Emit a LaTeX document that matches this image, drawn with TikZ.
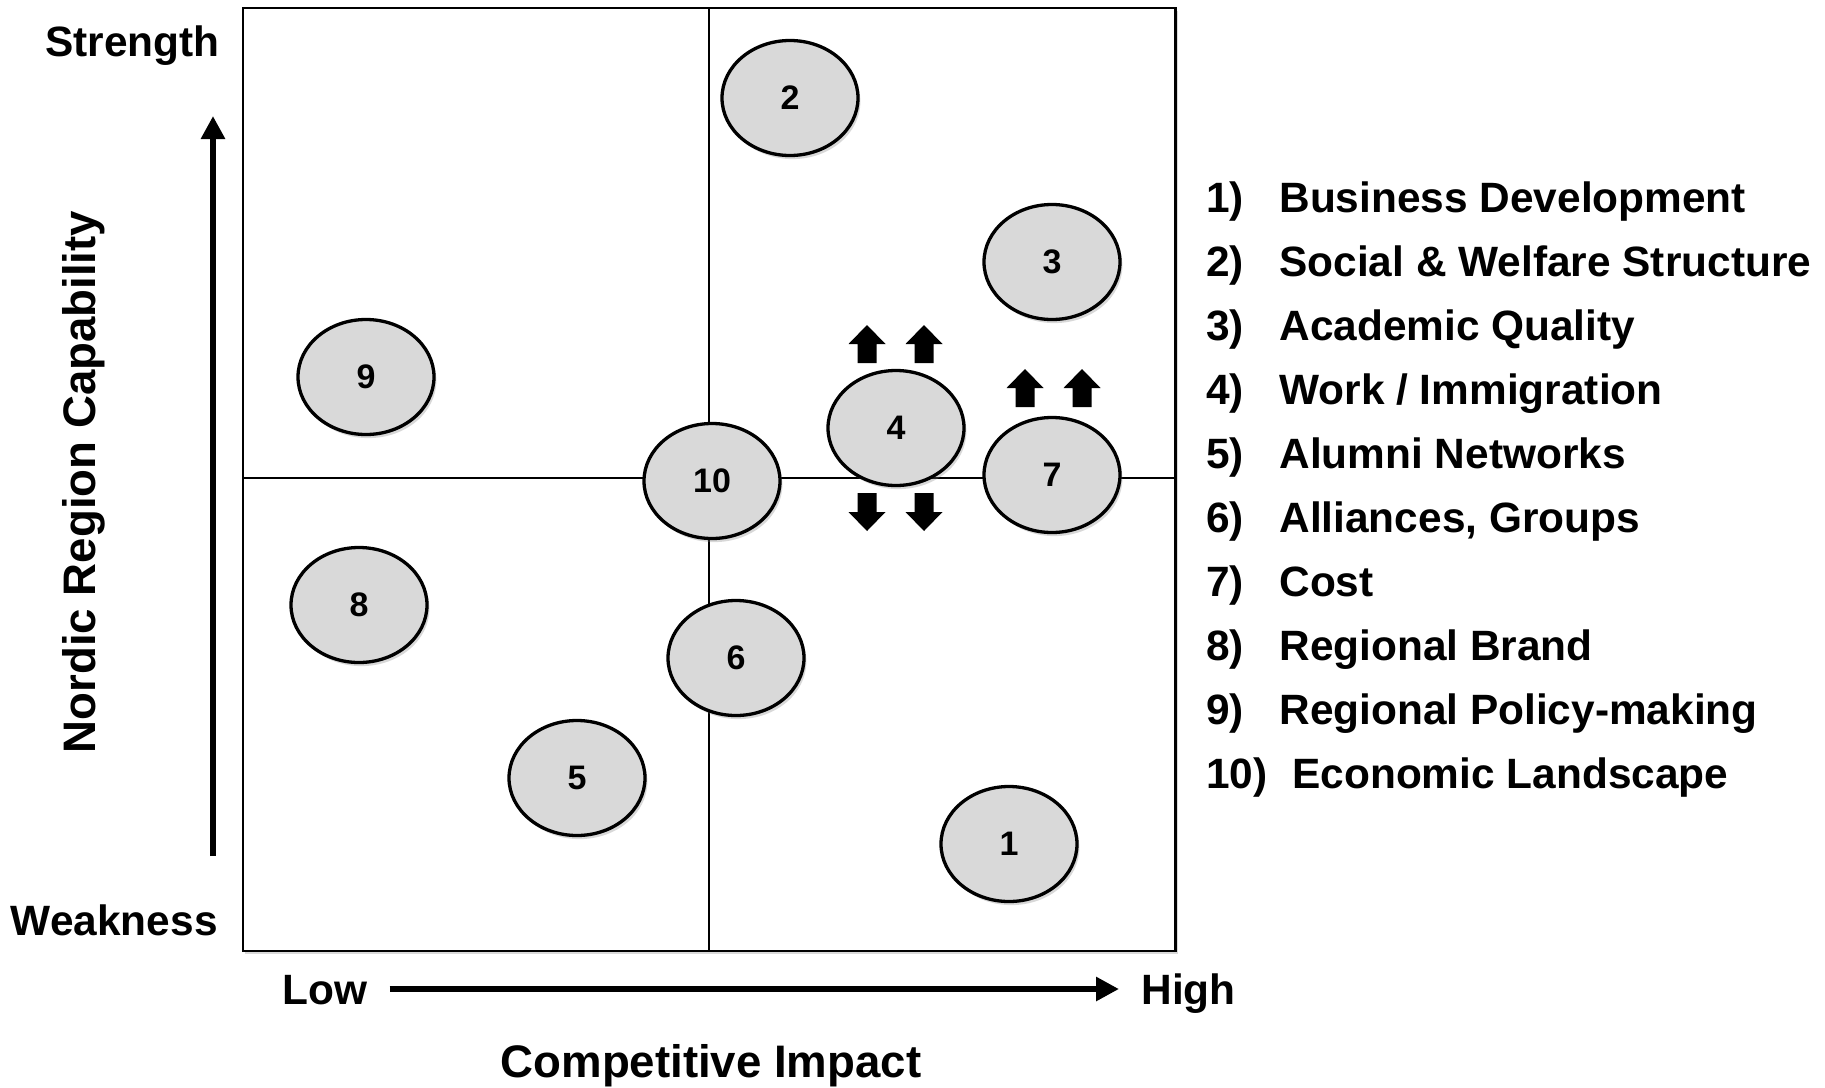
\documentclass[tikz,border=0pt]{standalone}
\usepackage{fontspec}
\setmainfont{Liberation Sans}
\usetikzlibrary{shapes.geometric}
\usetikzlibrary{arrows.meta}
\usetikzlibrary{shadows}

\begin{document}
\begin{tikzpicture}[x=0.5pt,y=-0.5pt,
factor/.style={ellipse,draw,line width=1.65pt,fill=black!15,minimum width=68pt,minimum height=57.5pt,inner sep=0pt,
  font=\fontsize{17}{20}\selectfont\bfseries,drop shadow={shadow xshift=1.2pt,shadow yshift=-1.8pt,opacity=.3}},
axlabel/.style={inner sep=0pt,text height=0.72em,text depth=0pt,font=\fontsize{21.2}{25}\selectfont\bfseries},
bigaxlabel/.style={axlabel,font=\fontsize{22.8}{27}\selectfont\bfseries},
axis/.style={line width=3.3pt,-{Triangle[length=11.5pt,width=11.5pt]}},
blockup/.pic={\fill (-9.5,0) -- (-9.5,-19) -- (-18.5,-19) -- (0,-38) -- (18.5,-19) -- (9.5,-19) -- (9.5,0) -- cycle;}]

\useasboundingbox (0,0) rectangle (1825,1087);

% quadrant box
\filldraw[fill=white,line width=1.1pt,drop shadow={shadow xshift=1pt,shadow yshift=-1.5pt,opacity=.3}] (243,8) rectangle (1175.5,951);
\draw[line width=.8pt] (709,8) -- (709,951);
\draw[line width=.8pt] (243,478) -- (1175.5,478);

% factors
\draw (790,98) node[factor] (f2) {2};
\draw (1052,262) node[factor] (f3) {3};
\draw (366,377) node[factor] (f9) {9};
\draw (896,428) node[factor] (f4) {4};
\draw (712,481) node[factor] (f10) {10};
\draw (1052,475) node[factor] (f7) {7};
\draw (359,605) node[factor] (f8) {8};
\draw (736,658) node[factor] (f6) {6};
\draw (577,778) node[factor] (f5) {5};
\draw (1009,844) node[factor] (f1) {1};

% trend arrows
\pic at (867,363) {blockup};
\pic at (924,363) {blockup};
\pic[rotate=180] at (867,493) {blockup};
\pic[rotate=180] at (924,493) {blockup};
\pic at (1025,407) {blockup};
\pic at (1082,407) {blockup};

% axes
\draw (220,49) node[axlabel,anchor=east] (strong) {Strength};
\draw (218,928) node[axlabel,anchor=east] (weak) {Weakness};
\draw (88,482) node[bigaxlabel,rotate=90] (ylab) {Nordic Region Capability};
\coordinate (ybot) at (213,856);
\coordinate (ytop) at (213,116);
\draw[axis] (ybot) -- (ytop);

\draw (282,997) node[axlabel,anchor=west] (low) {Low};
\draw (1141,997) node[axlabel,anchor=west] (high) {High};
\draw[axis,shorten <=11pt,shorten >=11pt] ([yshift=4pt]low.east) -- ([yshift=4pt]high.west);
\draw (711,1070) node[bigaxlabel] (xlab) {Competitive Impact};

% legend
\foreach \i/\txt/\tx in {1/{Business Development}/1279,2/{Social \& Welfare Structure}/1279,3/{Academic Quality}/1279,
  4/{Work / Immigration}/1279,5/{Alumni Networks}/1279,6/{Alliances, Groups}/1279,7/{Cost}/1279,
  8/{Regional Brand}/1279,9/{Regional Policy-making}/1279,10/{Economic Landscape}/1292}
{
  \draw (1206,205+64*\i-64) node[axlabel,anchor=west] (num\i) {\i)};
  \draw (\tx,205+64*\i-64) node[axlabel,anchor=west] (item\i) {\txt};
}

\end{tikzpicture}
\end{document}
